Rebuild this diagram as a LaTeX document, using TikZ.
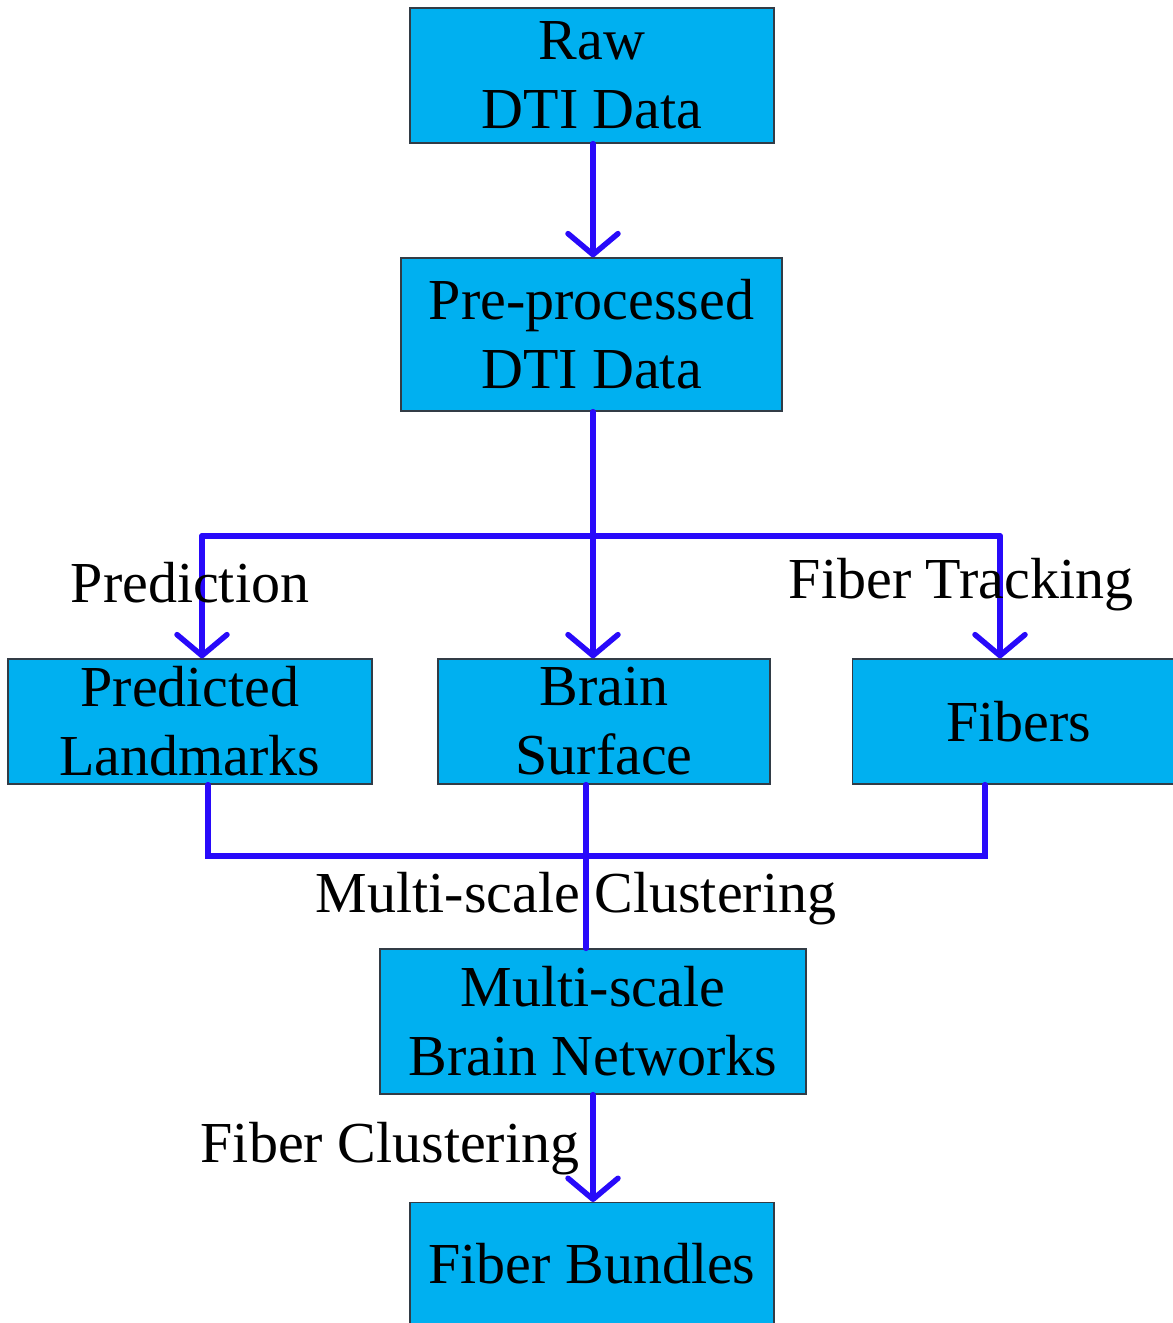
\documentclass[tikz,border=0pt]{standalone}
\usepackage{fontspec}
\setmainfont{Liberation Serif}
\usetikzlibrary{arrows.meta}
\definecolor{boxfill}{RGB}{0,176,240}
\definecolor{boxline}{RGB}{50,60,70}
\definecolor{flow}{RGB}{40,10,250}
\begin{document}
\begin{tikzpicture}[x=1pt,y=-1pt,
  box/.style={draw=boxline, line width=1.3pt, fill=boxfill, inner sep=0pt,
    align=center, font=\fontsize{58}{69}\selectfont},
  lbl/.style={anchor=base, inner sep=0pt, font=\fontsize{58}{69}\selectfont},
  flowline/.style={draw=flow, line width=5.5pt, line cap=round},
  tip/.style={-{Straight Barb[length=21pt,width=50pt,line width=5.5pt,round]}}]
\useasboundingbox[fill=white] (0,0) rectangle (1173,1323);

% process boxes
\node[box, minimum width=364pt, minimum height=135pt] (raw) at (592,75.5) {Raw\\DTI Data};
\node[box, minimum width=381pt, minimum height=153pt] (pre) at (591.5,334.5) {Pre-processed\\DTI Data};
\node[box, minimum width=364pt, minimum height=125pt] (lm) at (190,721.5) {Predicted\\Landmarks};
\node[box, minimum width=332pt, minimum height=125pt] (bs) at (604,721.5) {Brain\\Surface};
\node[box, minimum width=324pt, minimum height=125pt, anchor=west] (fib) at (852,721.5) {\hspace*{8pt}Fibers};
\node[box, minimum width=426pt, minimum height=145pt] (ms) at (593,1021.5) {Multi-scale\\Brain Networks};
\node[box, minimum width=364pt, minimum height=130pt, anchor=north, text depth=0pt] (fb) at (592,1202) {\raisebox{9pt}{Fiber Bundles}};

% branching points
\coordinate (split) at (593,536);
\coordinate (lt) at (202,536);
\coordinate (rt) at (1000,536);
\coordinate (ml) at (208,856);
\coordinate (mid) at (586,856);
\coordinate (mr) at (985,856);

% connectors
\draw[flowline, tip] (raw.south -| split) -- (pre.north -| split);
\draw[flowline] (pre.south -| split) -- (split);
\draw[flowline] (lt) -- (rt);
\draw[flowline, tip] (lt) -- (lt |- lm.north);
\draw[flowline, tip] (split) -- (split |- bs.north);
\draw[flowline, tip] (rt) -- (rt |- fib.north);
\draw[flowline] (ml |- lm.south) -- (ml) -- (mr) -- (mr |- fib.south);
\draw[flowline] (mid |- bs.south) -- (mid |- ms.north);
\draw[flowline, tip] (ms.south -| split) -- (fb.north -| split);

% edge labels
\node[lbl] (lpred) at (190,602) {Prediction};
\node[lbl] (ltrack) at (961,598) {Fiber Tracking};
\node[lbl] (lmsc) at (576,912) {Multi-scale Clustering};
\node[lbl] (lfc) at (390,1162) {Fiber Clustering};
\end{tikzpicture}
\end{document}
